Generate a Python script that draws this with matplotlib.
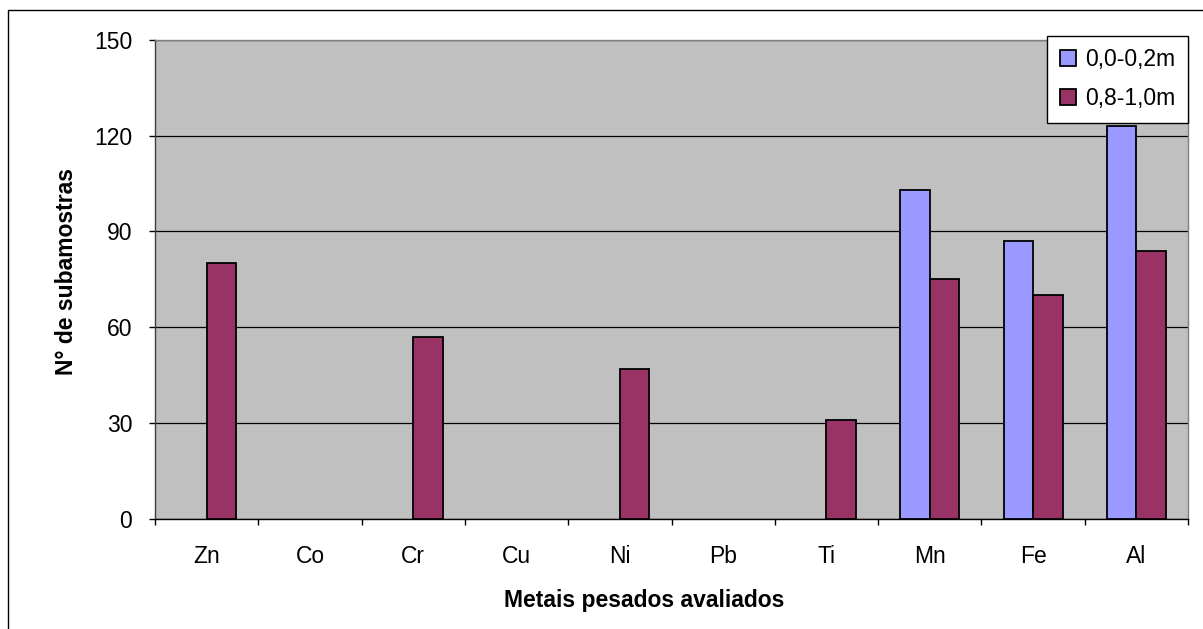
import numpy as np
import matplotlib
matplotlib.use("Agg")
import matplotlib.pyplot as plt
from matplotlib.patches import Rectangle

# ==== DATA ====
metais = ["Zn", "Co", "Cr", "Cu", "Ni", "Pb", "Ti", "Mn", "Fe", "Al"]
prof_0_02 = [0, 0, 0, 0, 0, 0, 0, 103, 87, 123]     # 0,0-0,2m
prof_08_10 = [80, 0, 57, 0, 47, 0, 31, 75, 70, 84]  # 0,8-1,0m
y_ticks = [0, 30, 60, 90, 120, 150]

# ==== STYLE ====
plt.rcParams['font.family'] = ['Liberation Sans', 'DejaVu Sans']
FS = 16.5
AZUL = "#9999FF"
VINHO = "#993366"
FUNDO = "#C0C0C0"

fig = plt.figure(figsize=(12.03, 6.29), dpi=100)
ax = fig.add_axes([155 / 1203, 1 - 518.5 / 629, 1033 / 1203, 478.5 / 629])
ax.set_facecolor(FUNDO)

x = np.arange(len(metais))
w = 1 / 3.5  # excel-like gap width of 150%

# skip zero-height bars so they don't leave an edge line on the axis
def barras(valores, offset, cor, nome):
    vals = np.array(valores, dtype=float)
    mask = vals > 0
    ax.bar(x[mask] + offset, vals[mask], width=w, align="edge",
           color=cor, edgecolor="black", linewidth=1.3, label=nome, zorder=3)

barras(prof_0_02, -w, AZUL, "0,0-0,2m")
barras(prof_08_10, 0, VINHO, "0,8-1,0m")

ax.set_xlim(-0.5, len(metais) - 0.5)
ax.set_ylim(0, 150)
ax.set_yticks(y_ticks)
ax.yaxis.grid(True, color="black", linewidth=0.9, zorder=1)
ax.set_axisbelow(True)

# category labels centred, tick marks between categories
ax.set_xticks(x)
ax.set_xticklabels(metais)
ax.set_xticks(np.arange(-0.5, len(metais)), minor=True)
ax.tick_params(axis="x", which="major", length=0, pad=19, labelsize=FS)
ax.tick_params(axis="x", which="minor", length=4.3, width=1, direction="out")
ax.tick_params(axis="y", length=4.3, width=1, direction="out", pad=12, labelsize=FS)

for lado in ["top", "right"]:
    ax.spines[lado].set_color("#808080")
ax.spines["left"].set_color("#404040")
ax.spines["bottom"].set_color("black")
for s in ax.spines.values():
    s.set_linewidth(1)

ax.set_xlabel("Metais pesados avaliados", fontsize=FS, fontweight="bold")
ax.xaxis.set_label_coords((644.5 - 155) / 1033, (518.5 - 589) / 478.5)
ax.set_ylabel("N° de subamostras", fontsize=FS, fontweight="bold")
ax.yaxis.set_label_coords((78 - 155) / 1033, (518.5 - 271.5) / 478.5)

leg = ax.legend(loc="upper right", bbox_to_anchor=(1.0, 1.009), borderaxespad=0,
                fontsize=FS, handlelength=0.7, handleheight=0.7, handletextpad=0.4,
                labelspacing=0.7, borderpad=0.55, fancybox=False, framealpha=1,
                edgecolor="black")
leg.get_frame().set_linewidth(1)
leg.set_zorder(5)

# outer chart frame
fig.add_artist(Rectangle((8 / 1203, -0.05), 1.1, 0.05 + (1 - 10 / 629),
                         transform=fig.transFigure, fill=False,
                         edgecolor="black", linewidth=1))

fig.savefig("out.png", dpi=100)
